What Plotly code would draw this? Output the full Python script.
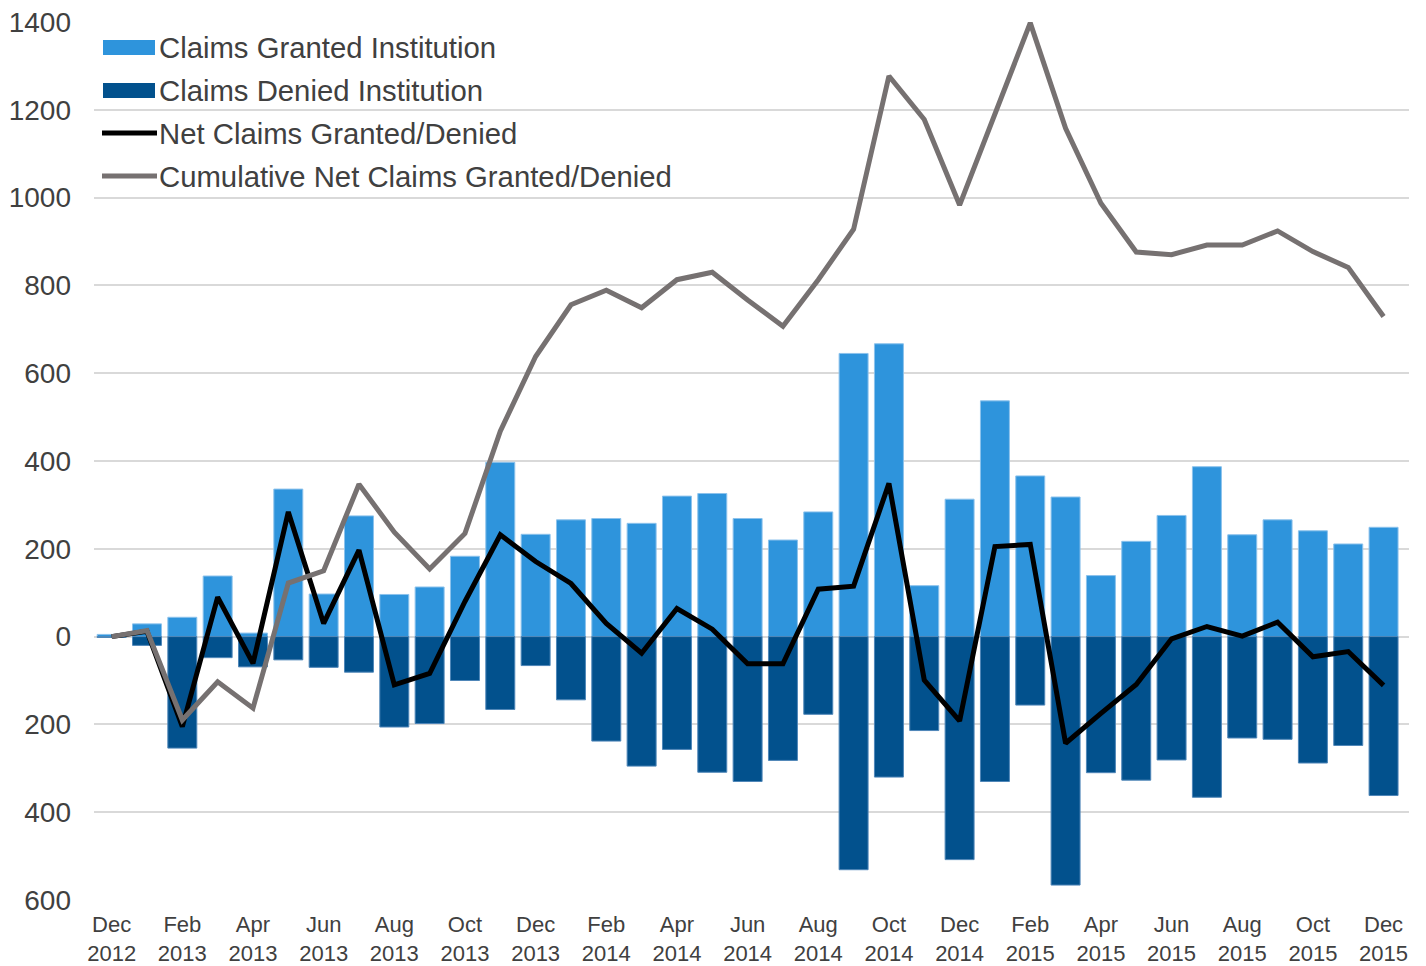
import plotly.graph_objects as go

# Monthly institution claim decisions, Dec 2012 - Dec 2015
months = [
    "Dec 2012", "Jan 2013", "Feb 2013", "Mar 2013", "Apr 2013", "May 2013", "Jun 2013",
    "Jul 2013", "Aug 2013", "Sep 2013", "Oct 2013", "Nov 2013", "Dec 2013",
    "Jan 2014", "Feb 2014", "Mar 2014", "Apr 2014", "May 2014", "Jun 2014",
    "Jul 2014", "Aug 2014", "Sep 2014", "Oct 2014", "Nov 2014", "Dec 2014",
    "Jan 2015", "Feb 2015", "Mar 2015", "Apr 2015", "May 2015", "Jun 2015",
    "Jul 2015", "Aug 2015", "Sep 2015", "Oct 2015", "Nov 2015", "Dec 2015",
]

claims_granted = [
    5, 29, 44, 138, 8, 336, 97, 275, 96, 113, 183, 397, 233,
    266, 269, 258, 320, 326, 269, 220, 284, 645, 667, 116, 313,
    537, 366, 318, 139, 217, 276, 387, 232, 266, 241, 211, 249,
]

claims_denied = [
    -2, -20, -254, -48, -69, -53, -70, -81, -206, -198, -100, -166, -66,
    -144, -238, -295, -257, -309, -330, -282, -177, -531, -320, -214, -508,
    -330, -156, -566, -310, -327, -281, -366, -231, -234, -288, -248, -362,
]

net_claims = [
    0, 12, -205, 90, -61, 284, 30, 197, -110, -84, 80, 232, 171,
    121, 30, -38, 64, 17, -62, -62, 108, 115, 349, -99, -192,
    205, 210, -243, -175, -109, -5, 23, 1, 33, -46, -34, -111,
]

cumulative_net = [
    0, 14, -190, -103, -163, 122, 150, 347, 238, 154, 235, 468, 638,
    756, 789, 749, 813, 830, 767, 707, 813, 928, 1277, 1178, 983,
    1192, 1398, 1158, 987, 876, 870, 892, 892, 924, 877, 841, 729,
]

# Every second month is labelled on the category axis
x_tick_months = months[::2]
x_tick_text = [m.replace(" ", "<br>") for m in x_tick_months]

y_tick_values = [-600, -400, -200, 0, 200, 400, 600, 800, 1000, 1200, 1400]
y_tick_text = ["600", "400", "200", "0", "200", "400", "600", "800", "1000", "1200", "1400"]

series_names = [
    "Claims Granted Institution",
    "Claims Denied Institution",
    "Net Claims Granted/Denied",
    "Cumulative Net Claims Granted/Denied",
]

LIGHT_BLUE = "#2E94DC"
DARK_BLUE = "#02518D"
NET_COLOR = "#000000"
CUM_COLOR = "#767171"
TEXT_COLOR = "#404040"
GRID_COLOR = "#D9D9D9"
FONT = "Liberation Sans, Arial, sans-serif"

W, H = 1426, 966
M_L, M_R, M_T, M_B = 94, 17, 22, 66
PLOT_W = W - M_L - M_R
PLOT_H = H - M_T - M_B

fig = go.Figure()
fig.add_trace(go.Bar(
    x=months, y=claims_granted, name=series_names[0],
    marker=dict(color=LIGHT_BLUE, line=dict(color="#8CC2EC", width=1)),
    showlegend=False,
))
fig.add_trace(go.Bar(
    x=months, y=claims_denied, name=series_names[1],
    marker=dict(color=DARK_BLUE, line=dict(color="#4F86B8", width=1)),
    showlegend=False,
))
fig.add_trace(go.Scatter(
    x=months, y=net_claims, name=series_names[2], mode="lines",
    line=dict(color=NET_COLOR, width=5),
    showlegend=False,
))
fig.add_trace(go.Scatter(
    x=months, y=cumulative_net, name=series_names[3], mode="lines",
    line=dict(color=CUM_COLOR, width=5),
    showlegend=False,
))


# Legend drawn in pixel units relative to the plot area
def px_x(p):
    return (p - M_L) / PLOT_W


def px_y(p):
    return (H - M_B - p) / PLOT_H


shapes = [
    dict(type="rect", xref="paper", yref="paper", layer="between",
         x0=px_x(95), x1=px_x(680), y0=px_y(24), y1=px_y(196),
         fillcolor="white", line=dict(width=0)),
    dict(type="rect", xref="paper", yref="paper",
         x0=px_x(103), x1=px_x(155), y0=px_y(40), y1=px_y(55),
         fillcolor=LIGHT_BLUE, line=dict(width=0)),
    dict(type="rect", xref="paper", yref="paper",
         x0=px_x(103), x1=px_x(155), y0=px_y(83), y1=px_y(98),
         fillcolor=DARK_BLUE, line=dict(width=0)),
    dict(type="line", xref="paper", yref="paper",
         x0=px_x(102), x1=px_x(157), y0=px_y(133), y1=px_y(133),
         line=dict(color=NET_COLOR, width=5)),
    dict(type="line", xref="paper", yref="paper",
         x0=px_x(102), x1=px_x(157), y0=px_y(176), y1=px_y(176),
         line=dict(color=CUM_COLOR, width=5)),
]

row_y = [47, 90, 133, 176]
annotations = [
    dict(xref="paper", yref="paper", x=px_x(157), y=px_y(ry),
         xanchor="left", yanchor="middle", showarrow=False,
         text=name, font=dict(family=FONT, size=29.3, color=TEXT_COLOR))
    for name, ry in zip(series_names, row_y)
]

fig.update_layout(
    width=W, height=H,
    margin=dict(l=M_L, r=M_R, t=M_T, b=M_B, pad=0, autoexpand=False),
    paper_bgcolor="white", plot_bgcolor="white",
    barmode="relative", bargap=0.18,
    font=dict(family=FONT, color=TEXT_COLOR),
    shapes=shapes, annotations=annotations,
    showlegend=False,
)
fig.update_xaxes(
    type="category", range=[-0.5, 36.72], automargin=False,
    tickmode="array", tickvals=x_tick_months, ticktext=x_tick_text,
    tickfont=dict(family=FONT, size=22, color=TEXT_COLOR),
    showgrid=False, zeroline=False, showline=False, ticks="",
    ticklabelstandoff=9,
)
fig.update_yaxes(
    range=[-600, 1400], automargin=False,
    tickmode="array", tickvals=y_tick_values, ticktext=y_tick_text,
    tickfont=dict(family=FONT, size=28, color=TEXT_COLOR),
    showgrid=True, gridcolor=GRID_COLOR, gridwidth=2,
    zeroline=False, showline=False, ticks="",
    ticklabelstandoff=22,
)

# Page without body margin so the figure fills the window exactly
fig.write_html(
    "out.html",
    post_script="document.body.style.margin='0';",
)
